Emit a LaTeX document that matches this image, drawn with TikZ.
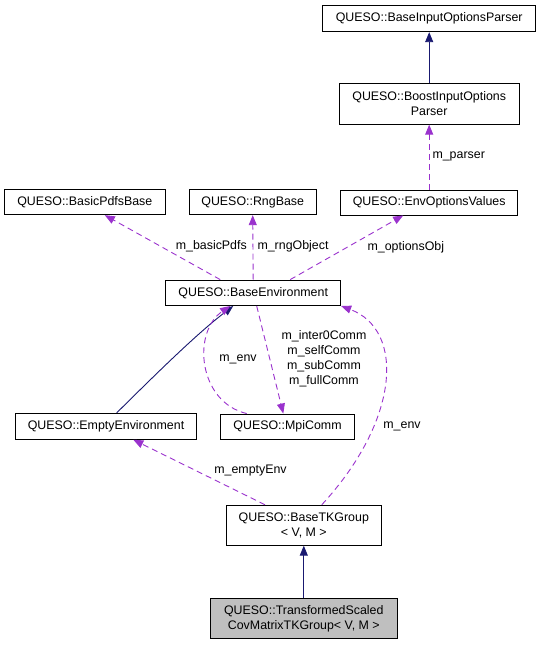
\documentclass[tikz,border=0pt]{standalone}
\usepackage{fontspec}
\setmainfont{Liberation Sans}
\usetikzlibrary{arrows.meta}
\definecolor{navyline}{HTML}{191970}
\definecolor{orchid}{HTML}{9A32CD}
\definecolor{leafgrey}{HTML}{BFBFBF}

\begin{document}
\begin{tikzpicture}[x=1pt,y=-1pt,
  every node/.style={font=\fontsize{12.4}{15}\selectfont, inner sep=0pt, align=center},
  cls/.style={draw=black, line width=0.9pt, fill=white},
  inh/.style={draw=navyline, line width=0.9pt, -{Triangle[length=10pt,width=8pt]}},
  mem/.style={draw=orchid, line width=0.9pt, dash pattern=on 6pt off 4pt, -{Triangle[length=10pt,width=8pt]}}]
  \useasboundingbox (0,0) rectangle (541,645);
  % classes
  \node[cls, minimum width=213, minimum height=26] (bip) at (429.2,18.7) {QUESO::BaseInputOptionsParser};
  \node[cls, minimum width=180, minimum height=41] (boost) at (429.2,103.7) {QUESO::BoostInputOptions\\Parser};
  \node[cls, minimum width=161.7, minimum height=25] (pdfs) at (84.8,202.2) {QUESO::BasicPdfsBase};
  \node[cls, minimum width=126.7, minimum height=25] (rng) at (252.7,202.2) {QUESO::RngBase};
  \node[cls, minimum width=177, minimum height=25] (envopt) at (429.2,202.5) {QUESO::EnvOptionsValues};
  \node[cls, minimum width=175, minimum height=25.5] (baseenv) at (253.2,292.8) {QUESO::BaseEnvironment};
  \node[cls, minimum width=181.4, minimum height=26] (empty) at (106,426.3) {QUESO::EmptyEnvironment};
  \node[cls, minimum width=133.6, minimum height=25] (mpi) at (287.5,426.5) {QUESO::MpiComm};
  \node[cls, minimum width=154.3, minimum height=40] (tk) at (303.8,525.2) {QUESO::BaseTKGroup\\< V, M >};
  \node[cls, fill=leafgrey, minimum width=186.3, minimum height=39.6] (tsc) at (303.8,618.5) {QUESO::TransformedScaled\\CovMatrixTKGroup< V, M >};

  % inheritance
  \draw[inh] (boost.north) -- (bip.south);
  \draw[inh] ([xshift=10.7]empty.north) .. controls (150,380) and (195,335) .. ([xshift=-20]baseenv.south);
  \draw[inh] (tsc.north) -- (tk.south);

  % members
  \draw[mem] (envopt.north) -- (boost.south);
  \draw[mem] ([xshift=-33]baseenv.north) -- ([xshift=20]pdfs.south);
  \draw[mem] (baseenv.north) -- (rng.south);
  \draw[mem] ([xshift=37]baseenv.north) -- ([xshift=-26]envopt.south);
  \draw[mem] ([xshift=-40.8]mpi.north) .. controls (198,402) and (192,332) .. ([xshift=-23]baseenv.south);
  \draw[mem] ([xshift=3.5]baseenv.south) -- ([xshift=-4.2]mpi.north);
  \draw[mem] ([xshift=18]tk.north) .. controls (400,420) and (405,330) .. (baseenv.south east);
  \draw[mem] ([xshift=-38.8]tk.north) -- ([xshift=27.3]empty.south);

  % labels
  \node (lparser) at (458.7,156.7) {m\_parser};
  \node (lpdfs) at (211.3,246.7) {m\_basicPdfs};
  \node (lrng) at (293,246.7) {m\_rngObject};
  \node (lopt) at (405.8,247.3) {m\_optionsObj};
  \node (lenvmpi) at (238,359) {m\_env};
  \node (lcomm) at (324,358.7) {m\_inter0Comm\\m\_selfComm\\m\_subComm\\m\_fullComm};
  \node (lenvtk) at (402,426) {m\_env};
  \node (lempty) at (250.5,471) {m\_emptyEnv};
\end{tikzpicture}
\end{document}
